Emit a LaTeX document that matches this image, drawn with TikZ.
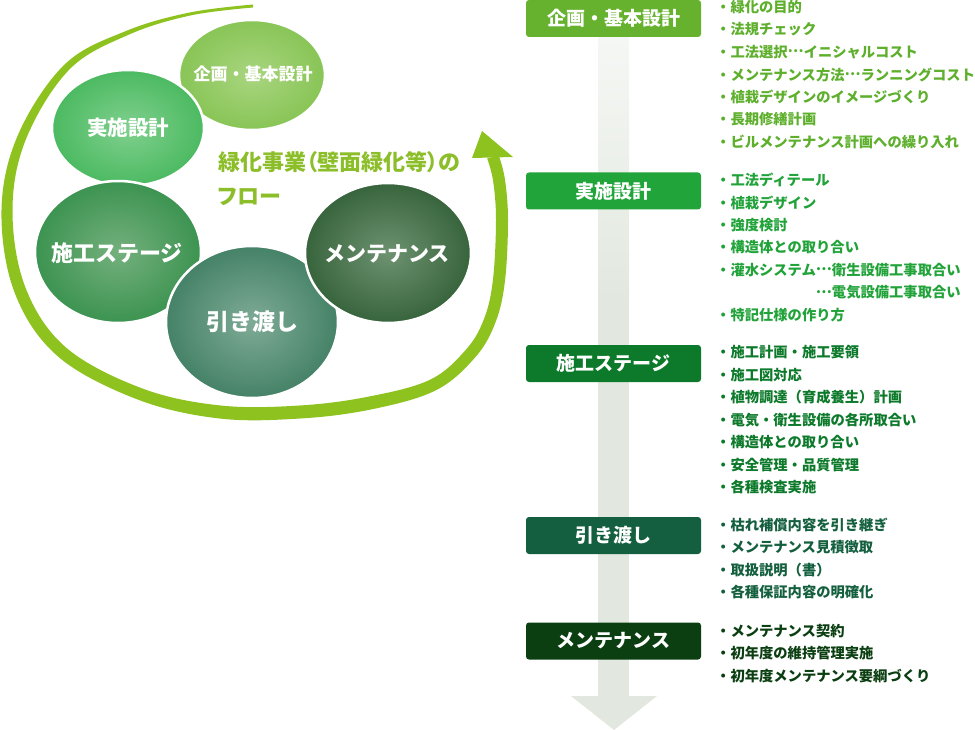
\documentclass[tikz,border=0pt]{standalone}
\usepackage{fontspec}
\setmainfont{Noto Sans CJK JP}
\newfontfamily\jpp{Noto Sans CJK JP}[RawFeature=+palt]
\newcommand{\jel}{\raisebox{0.32em}{…}}
\usetikzlibrary{shapes.geometric}
\definecolor{arcg}{HTML}{8DC21F}
\definecolor{titleg}{HTML}{8CBE2A}
\definecolor{c1}{HTML}{66B22F}
\definecolor{c2}{HTML}{21A53A}
\definecolor{c3}{HTML}{0C7A2A}
\definecolor{c4}{HTML}{135F3F}
\definecolor{c5}{HTML}{0B3F12}
\definecolor{l1}{HTML}{5DAF2C}
\definecolor{l2}{HTML}{21A33A}
\definecolor{l3}{HTML}{0D7A2B}
\definecolor{l4}{HTML}{145F3E}
\definecolor{l5}{HTML}{0B3F12}
\definecolor{k1in}{HTML}{A9D57F}\definecolor{k1out}{HTML}{6BB632}
\definecolor{k2in}{HTML}{80D08E}\definecolor{k2out}{HTML}{1EA63A}
\definecolor{k3in}{HTML}{74B07D}\definecolor{k3out}{HTML}{0B7A29}
\definecolor{k4in}{HTML}{7FAB96}\definecolor{k4out}{HTML}{125E3D}
\definecolor{k5in}{HTML}{6D9270}\definecolor{k5out}{HTML}{093C0F}
\definecolor{greyarr}{HTML}{E2E8DF}
\definecolor{greytop}{HTML}{F5F7F4}
\colorlet{ballin}{white}\colorlet{ballout}{black}
\pgfdeclareradialshading[ballin,ballout]{ball}{\pgfpoint{0bp}{0bp}}{color(0bp)=(ballin); color(47bp)=(ballout); color(70bp)=(ballout)}
\tikzset{
  stagebox/.style={minimum width=175pt, minimum height=37pt, rounded corners=3pt, inner sep=0pt, text=white, font=\bfseries\fontsize{19}{20}\selectfont},
  item/.style={anchor=west, inner sep=0pt, font=\bfseries\fontsize{14.3}{16}\selectfont},
  bubble/.style 2 args={ellipse, inner sep=0pt, draw=white, line width=2.5pt, /utils/exec={\colorlet{ballin}{#1}\colorlet{ballout}{#2}}, shade, shading=ball},
  bubtext/.style={text=white, inner sep=0pt, font=\bfseries\fontsize{#1}{#1}\selectfont},
  titletext/.style={anchor=west, inner sep=0pt, text=titleg, font=\jpp\bfseries\fontsize{22}{24}\selectfont}
}
\begin{document}
\begin{tikzpicture}[x=1pt,y=-1pt]
\useasboundingbox (0,0) rectangle (975,730);
% big circular arrow
\fill[arcg] plot[smooth, tension=0.6] coordinates {(253,4.5) (189.7,12.5) (126,31) (64.7,64.4) (17.9,135.1) (1.5,210) (14.6,292.6) (57.9,356.4) (137.6,399.5) (219.4,418.5) (300.3,418.5) (371.3,409.4) (435.7,390.4) (475.5,357) (495.6,322.1) (505,280.7) (508,220) (504.9,179.1) (498.8,155.5)}
  -- plot[smooth, tension=0.6] coordinates {(487.2,158.5) (493.1,180.9) (496,220) (493,279.3) (484.4,317.9) (466.5,349) (430.3,379.6) (368.7,396.6) (299.7,405.5) (220.6,405.5) (142.4,388.5) (66.1,347.6) (25.4,287.4) (12.5,210) (26.1,138.9) (69.3,69.6) (128,35) (190.3,15.5) (253,7.5)} -- cycle;
\fill[arcg] (482,131) -- (472,158) -- (513,157) -- cycle;
% bubbles
\node[bubble={k1in}{k1out}, minimum width=146pt, minimum height=110pt] (c1) at (252,75) {};
\node[bubble={k2in}{k2out}, minimum width=152pt, minimum height=116pt] (c2) at (128,128) {};
\node[bubble={k3in}{k3out}, minimum width=166pt, minimum height=142pt] (c3) at (118,252) {};
\node[bubble={k4in}{k4out}, minimum width=172pt, minimum height=152pt] (c4) at (252,322) {};
\node[bubble={k5in}{k5out}, minimum width=166pt, minimum height=140pt] (c5) at (388,253) {};
\node[bubtext=17] (c1t) at (253,74) {企画・基本設計};
\node[bubtext=20.5] (c2t) at (128,128) {実施設計};
\node[bubtext=22] (c3t) at (117,253) {施工ステージ};
\node[bubtext=23] (c4t) at (252,322) {引き渡し};
\node[bubtext=21] (c5t) at (387,254) {メンテナンス};
% title
\node[titletext] (t1) at (218,162) {緑化事業（壁面緑化等）の};
\node[titletext] (t2) at (218,197) {フロー};
% grey down arrow
\shade[top color=greytop, bottom color=greyarr] (598,37) rectangle (629,300);
\fill[greyarr] (598,299) rectangle (629,697);
\fill[greyarr] (571,696) -- (657,696) -- (614,730) -- cycle;
% stage boxes
\node[stagebox, fill=c1] (b1) at (613.5,18.5) {企画・基本設計};
\node[stagebox, fill=c2] (b2) at (613.5,191) {実施設計};
\node[stagebox, fill=c3] (b3) at (613.5,363.5) {施工ステージ};
\node[stagebox, fill=c4] (b4) at (613.5,535.5) {引き渡し};
\node[stagebox, fill=c5] (b5) at (613.5,641) {メンテナンス};
% lists
\foreach \t [count=\i from 0] in {・緑化の目的, ・法規チェック, ・工法選択\jel イニシャルコスト, ・メンテナンス方法\jel ランニングコスト, ・植栽デザインのイメージづくり, ・長期修繕計画, ・ビルメンテナンス計画への繰り入れ}
  \node[item, text=l1] (ga\i) at (716,{7+22.5*\i}) {\t};
\foreach \t [count=\i from 0] in {・工法ディテール, ・植栽デザイン, ・強度検討, ・構造体との取り合い, ・灌水システム\jel 衛生設備工事取合い, {\phantom{・灌水システム}\jel 電気設備工事取合い}, ・特記仕様の作り方}
  \node[item, text=l2] (gb\i) at (716,{180+22.5*\i}) {\t};
\foreach \t [count=\i from 0] in {・施工計画・施工要領, ・施工図対応, ・植物調達（育成養生）計画, ・電気・衛生設備の各所取合い, ・構造体との取り合い, ・安全管理・品質管理, ・各種検査実施}
  \node[item, text=l3] (gc\i) at (716,{352.5+22.5*\i}) {\t};
\foreach \t [count=\i from 0] in {・枯れ補償内容を引き継ぎ, ・メンテナンス見積徴取, ・取扱説明（書）, ・各種保証内容の明確化}
  \node[item, text=l4] (gd\i) at (716,{525+22.5*\i}) {\t};
\foreach \t [count=\i from 0] in {・メンテナンス契約, ・初年度の維持管理実施, ・初年度メンテナンス要綱づくり}
  \node[item, text=l5] (ge\i) at (716,{631+22.5*\i}) {\t};
\end{tikzpicture}
\end{document}
